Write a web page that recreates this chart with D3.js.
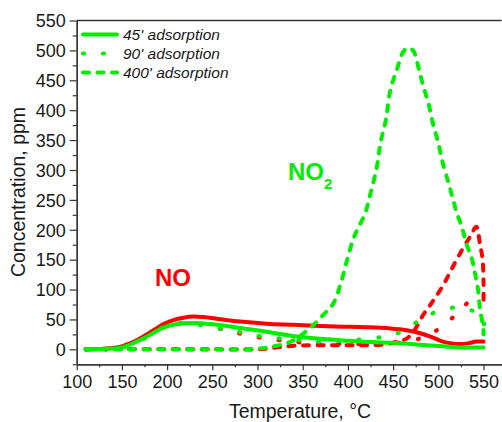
<!DOCTYPE html>
<html><head><meta charset="utf-8">
<script src="https://cdn.jsdelivr.net/npm/d3@7"></script>
<style>
html,body{margin:0;padding:0;background:#fff;}
text{font-family:"Liberation Sans",Arial,sans-serif;fill:#1a1a1a;}
</style></head>
<body>
<svg id="chart" width="502" height="422"></svg>
<script>
// ---- data (Temperature °C, Concentration ppm) ----
const xTicks = [100,150,200,250,300,350,400,450,500,550];
const yTicks = [0,50,100,150,200,250,300,350,400,450,500,550];
const legendLabels = ["45' adsorption","90' adsorption","400' adsorption"];

const no2_45_T = [110,130,150,165,181,195,210,229,250,266,285,303,320,340,360,377,395,413,430,450,470,487,505,524,540,550];
const no2_45_C = [0,1,3,12,24,36,42,44,42,39,35,31,27,22,19,17,15,13,12,11,9,7,5,3,3,3];

const no_45_T = [110,130,150,159,172,185,197,207,218,229,240,251,265,284,310,340,370,395,420,447,465,480,492,505,515,524,533,542,550];
const no_45_C = [0,1,5,10,20,32,43,49,53,55,54,52,49,46,43,41,39,38,37,35,32,27,21,13,10,9,10,13,13];

const no2_90_T = [110,150,180,203,225,250,273,295,320,341,365,400,435,458,480,498,520,537,546,550,550];
const no2_90_C = [0,3,22,42,43,37,31,24,19,16,13,15,20,29,49,63,70,65,60,50,29];

const no_90_T = [110,150,180,200,225,251,273,295,321,345,370,400,430,450,470,490,504,521,537,550];
const no_90_C = [0,3,25,40,44,37,29,22,16,12,10,9,9,10,14,25,38,60,82,78];

const no2_400_T = [110,150,200,250,300,317,330,341,352,362,373,384,392,399,406,412,419,424,432,436,442,447,454,461,466,472,478,483,489,494,500,505,511,515,520,526,531,537,541,544,546,549,550,550];
const no2_400_C = [0,0,0,0,1,5,9,16,28,41,58,77,110,149,185,205,227,255,305,345,384,434,467,497,504,500,472,442,412,378,345,311,280,258,230,205,177,152,124,99,69,43,31,25];

const no_400_T = [110,150,200,250,300,320,340,380,420,440,455,465,474,483,490,496,506,515,525,535,542,546,549,550,550];
const no_400_C = [0,0,0,0,0,3,6,7,7,8,13,18,33,57,72,85,109,135,163,188,205,177,150,110,80];

// ---- layout ----
const svg = d3.select("#chart");
const pL = 76.7, pR = 501.6, pT = 20.5, pB = 364.3;
const x = d3.scaleLinear().domain([100,570]).range([pL,pR]);
const y = d3.scaleLinear().domain([-25,550]).range([pB,pT]);

const GREEN = "#00ee00", RED = "#ff0000";
const styles = {
  solid:  {dash:null, w:4},
  dotted: {dash:"1 19", w:4.2},
  dashed: {dash:"6 8.5", w:4}
};

function pairs(T,C){ return T.map((t,i)=>[t,C[i]]); }
const series = [
  {d:pairs(no_45_T,no_45_C), c:RED, s:"solid"},
  {d:pairs(no_90_T,no_90_C), c:RED, s:"dotted"},
  {d:pairs(no_400_T,no_400_C), c:RED, s:"dashed"},
  {d:pairs(no2_45_T,no2_45_C), c:GREEN, s:"solid"},
  {d:pairs(no2_90_T,no2_90_C), c:GREEN, s:"dotted"},
  {d:pairs(no2_400_T,no2_400_C), c:GREEN, s:"dashed"}
];

const line = d3.line().x(d=>x(d[0])).y(d=>y(d[1])).curve(d3.curveCatmullRom.alpha(0.5));

series.forEach(sr=>{
  const st = styles[sr.s];
  svg.append("path").attr("d", line(sr.d))
    .attr("fill","none").attr("stroke",sr.c)
    .attr("stroke-width",st.w)
    .attr("stroke-linecap","round").attr("stroke-linejoin","round")
    .attr("stroke-dasharray",st.dash);
});

// axes
const xAxis = d3.axisBottom(x).tickValues(xTicks).tickSize(6).tickPadding(5).tickSizeOuter(0);
const xMinor = d3.axisBottom(x).tickValues(d3.range(125,570,50)).tickSize(3).tickFormat("").tickSizeOuter(0);
const yAxis = d3.axisLeft(y).tickValues(yTicks).tickSize(7).tickPadding(4).tickSizeOuter(0);
const yMinor = d3.axisLeft(y).tickValues(d3.range(-25,550,50)).tickSize(4).tickFormat("").tickSizeOuter(0);

function styleAxis(g){
  g.selectAll("path.domain").attr("stroke","#333").attr("stroke-width",1.3);
  g.selectAll("line").attr("stroke","#333").attr("stroke-width",1.2);
  g.selectAll("text").style("font-size","18px").attr("fill","#1a1a1a");
}
svg.append("g").attr("transform",`translate(0,${pB})`).call(xMinor).call(styleAxis);
svg.append("g").attr("transform",`translate(0,${pB})`).call(xAxis).call(styleAxis)
  .selectAll("text").attr("dy","0.71em");
svg.append("g").attr("transform",`translate(${pL},0)`).call(yMinor).call(styleAxis);
svg.append("g").attr("transform",`translate(${pL},0)`).call(yAxis).call(styleAxis)
  .selectAll("text").attr("dy","0.35em");

// top border
svg.append("line").attr("x1",pL).attr("x2",pR).attr("y1",pT).attr("y2",pT)
  .attr("stroke","#333").attr("stroke-width",1.3);

// axis titles
svg.append("text").attr("x",300).attr("y",418).attr("text-anchor","middle")
  .style("font-size","19.5px").text("Temperature, °C");
svg.append("text").attr("transform",`translate(25,192) rotate(-90)`).attr("text-anchor","middle")
  .style("font-size","19.5px").text("Concentration, ppm");

// legend
const legStyles = ["solid","dotted","dashed"];
legendLabels.forEach((lab,i)=>{
  const ly = 34.5 + i*19;
  const st = styles[legStyles[i]];
  svg.append("line").attr("x1",83).attr("x2",117).attr("y1",ly).attr("y2",ly)
    .attr("stroke",GREEN).attr("stroke-width",st.w).attr("stroke-linecap","round")
    .attr("stroke-dasharray",st.dash);
  svg.append("text").attr("x",123).attr("y",ly+5.5).style("font-size","15.5px")
    .style("font-style","italic").text(lab);
});

// annotations
svg.append("text").attr("x",155).attr("y",286).style("font-size","24px").style("font-weight","bold")
  .style("fill",RED).text("NO");
const t2 = svg.append("text").attr("x",288).attr("y",180).style("font-size","24px").style("font-weight","bold")
  .style("fill",GREEN);
t2.append("tspan").text("NO");
t2.append("tspan").attr("dy",9).style("font-size","15px").text("2");
</script>
</body></html>
